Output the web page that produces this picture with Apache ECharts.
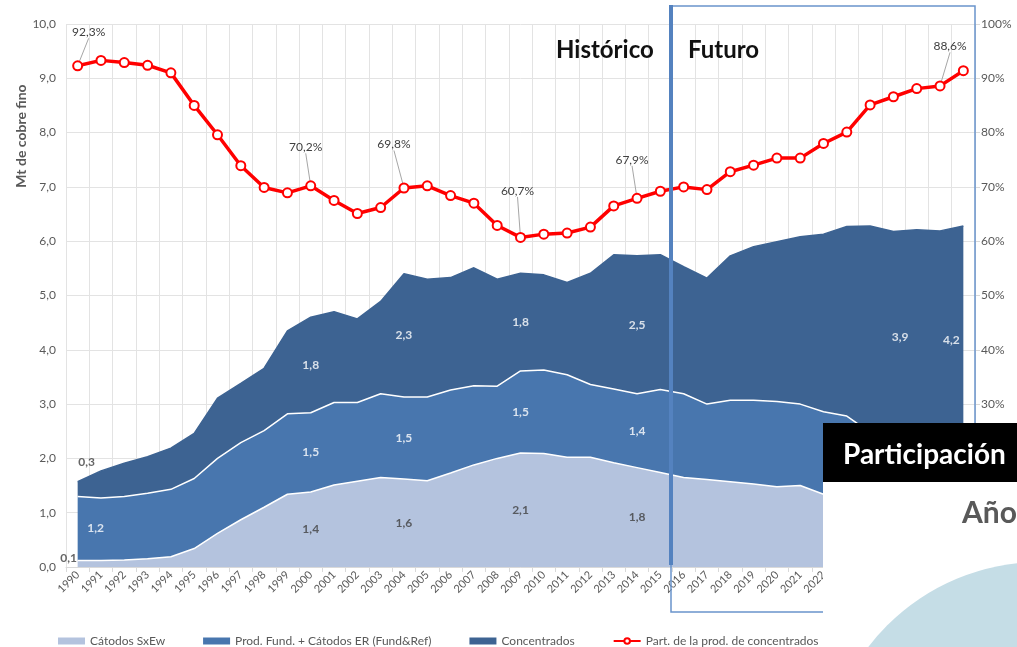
<!DOCTYPE html>
<html>
<head>
<meta charset="utf-8">
<script src="https://cdn.jsdelivr.net/npm/echarts@6/dist/echarts.min.js"></script>
<style>
  html, body { margin: 0; padding: 0; background: #fff; }
  #chart { width: 1017px; height: 647px; }
</style>
</head>
<body>
<div id="chart"></div>
<script>
// años 1990-2028
const years = []
for (let y = 1990; y <= 2028; y++) years.push(String(y))

// Mt de cobre fino por tipo de producto
const catodosSxEw = [0.12, 0.12, 0.13, 0.15, 0.19, 0.34, 0.62, 0.87, 1.10, 1.34,
  1.38, 1.51, 1.58, 1.65, 1.62, 1.59, 1.73, 1.88, 2.00, 2.10,
  2.09, 2.02, 2.02, 1.92, 1.83, 1.74, 1.65, 1.61, 1.57, 1.53,
  1.48, 1.50, 1.34, 1.22, 1.12, 1.05, 0.98, 0.92, 0.88]
const fundRef = [1.18, 1.15, 1.17, 1.21, 1.24, 1.29, 1.38, 1.42, 1.41, 1.48,
  1.46, 1.52, 1.45, 1.54, 1.51, 1.54, 1.53, 1.46, 1.33, 1.51,
  1.54, 1.52, 1.34, 1.36, 1.36, 1.53, 1.54, 1.39, 1.50, 1.54,
  1.57, 1.50, 1.52, 1.56, 1.36, 1.37, 1.38, 1.37, 1.20]
const concentrados = [0.27, 0.50, 0.61, 0.67, 0.76, 0.83, 1.11, 1.09, 1.15, 1.53,
  1.76, 1.67, 1.54, 1.70, 2.27, 2.17, 2.07, 2.17, 1.97, 1.80,
  1.75, 1.70, 2.05, 2.47, 2.54, 2.48, 2.34, 2.32, 2.66, 2.83,
  2.94, 3.08, 3.27, 3.49, 3.80, 3.76, 3.85, 3.90, 4.20]
// participación de concentrados (%)
const partConc = [92.3, 93.3, 92.9, 92.4, 91.0, 85.0, 79.6, 73.9, 69.9, 68.9,
  70.2, 67.5, 65.1, 66.2, 69.8, 70.2, 68.4, 67.0, 62.9, 60.7,
  61.3, 61.5, 62.6, 66.5, 67.9, 69.2, 70.0, 69.5, 72.8, 74.0,
  75.3, 75.3, 78.0, 80.1, 85.1, 86.6, 88.1, 88.6, 91.4]

// años con etiqueta
const sxewLabelYears = ['1990', '2000', '2004', '2009', '2014']
const fundLabelYears = ['1990', '2000', '2004', '2009', '2014']
const concLabelYears = ['1990', '2000', '2004', '2009', '2014', '2027', '2028']
const partLabelYears = ['1990', '2000', '2004', '2009', '2014', '2027']

const names = ['Cátodos SxEw', 'Prod. Fund. + Cátodos ER (Fund&Ref)', 'Concentrados',
  'Part. de la prod. de concentrados']
const colors = ['#b4c3de', '#4876ae', '#3d6392']
const FONT = 'Lato'

const fmt1 = v => v.toFixed(1).replace('.', ',')

// label offsets (px) for a few labels that Excel nudged
const layerOffsets = {
  '0-1990': [-9, -6], '1-1990': [18, 0], '2-1990': [9, -27],
  '2-2027': [-40, 0], '2-2028': [-12, 0]
}
const partOffsets = {
  '1990': [11, -17], '2000': [-5, -22], '2004': [-10, -27],
  '2009': [-3, -30], '2014': [-5, -22], '2027': [10, -23]
}

const layers = [catodosSxEw, fundRef, concentrados]
const labelYears = [sxewLabelYears, fundLabelYears, concLabelYears]

function labelSeries(k) {
  const vals = layers[k]
  const data = labelYears[k].map(yr => {
    const i = years.indexOf(yr)
    let below = 0
    for (let j = 0; j < k; j++) below += layers[j][i]
    const off = layerOffsets[k + '-' + yr] || [0, 0]
    return {
      value: [yr, below + vals[i] / 2],
      v: vals[i],
      label: { offset: off }
    }
  })
  return {
    type: 'scatter',
    yAxisIndex: 0,
    symbolSize: 0,
    silent: true,
    z: 4,
    data: data,
    label: {
      show: true,
      position: 'inside',
      fontFamily: FONT,
      fontSize: 12,
      fontWeight: 'bold',
      color: k === 0 ? '#404040' : '#ffffff',
      formatter: p => fmt1(p.data.v)
    }
  }
}

const areaSeries = layers.map((vals, k) => ({
  name: names[k],
  type: 'line',
  stack: 'total',
  symbol: 'none',
  data: vals,
  itemStyle: { color: colors[k] },
  lineStyle: { color: k === 2 ? colors[k] : '#ffffff', width: 1.5 },
  areaStyle: { color: colors[k], opacity: 1 },
  emphasis: { disabled: true },
  z: 2
}))

const lbl1 = labelSeries(0)
const lbl2 = labelSeries(1)
const lbl3 = labelSeries(2)
// 0,1 y 0,3 de 1990 van en gris oscuro
lbl1.data[0].label.color = '#404040'
lbl3.data[0].label.color = '#404040'

const partSeries = {
  name: names[3],
  type: 'line',
  yAxisIndex: 1,
  data: partConc.map((v, i) => partLabelYears.includes(years[i])
    ? { value: v, label: { show: true } } : v),
  symbol: 'circle',
  symbolSize: 9,
  itemStyle: { color: '#ffffff', borderColor: '#ff0000', borderWidth: 2 },
  lineStyle: { color: '#ff0000', width: 3.5 },
  z: 5,
  label: {
    show: false,
    position: 'top',
    fontFamily: FONT,
    fontSize: 12,
    color: '#404040',
    formatter: p => fmt1(p.value) + '%'
  },
  labelLine: { show: true, lineStyle: { color: '#a6a6a6', width: 1 } },
  labelLayout: p => {
    const off = partOffsets[years[p.dataIndex]]
    return off ? { dx: off[0], dy: off[1] } : {}
  }
}

const chart = echarts.init(document.getElementById('chart'))
chart.setOption({
  animation: false,
  backgroundColor: '#ffffff',
  textStyle: { fontFamily: FONT },
  grid: { left: 66, right: 42, top: 24, bottom: 80 },
  legend: {
    left: 53,
    top: 630,
    itemWidth: 27,
    itemHeight: 7,
    itemGap: 38,
    textStyle: { fontFamily: FONT, fontSize: 12, color: '#595959' },
    data: [
      { name: names[0], icon: 'rect' },
      { name: names[1], icon: 'rect' },
      { name: names[2], icon: 'rect' },
      { name: names[3] }
    ]
  },
  xAxis: {
    type: 'category',
    data: years,
    boundaryGap: true,
    axisLine: { lineStyle: { color: '#d9d9d9' } },
    axisTick: { show: true, length: 5, lineStyle: { color: '#d9d9d9' } },
    splitLine: { show: true, lineStyle: { color: '#e3e3e3' } },
    axisLabel: { rotate: 45, interval: 0, fontSize: 11, color: '#595959', margin: 6, fontFamily: FONT }
  },
  yAxis: [
    {
      type: 'value',
      min: 0, max: 10, interval: 1,
      axisLine: { show: false },
      axisTick: { show: false },
      splitLine: { lineStyle: { color: '#e3e3e3' } },
      axisLabel: { formatter: v => fmt1(v), fontSize: 12, color: '#595959', margin: 10, fontFamily: FONT }
    },
    {
      type: 'value',
      min: 0, max: 100, interval: 10,
      axisLine: { show: true, lineStyle: { color: '#d9d9d9' } },
      axisTick: { show: true, length: 5, lineStyle: { color: '#d9d9d9' } },
      splitLine: { show: false },
      axisLabel: { formatter: '{value}%', fontSize: 12, color: '#595959', margin: 6, fontFamily: FONT }
    }
  ],
  series: [...areaSeries, lbl1, lbl2, lbl3, partSeries],
  graphic: [
    {
      type: 'text', x: 21, y: 136, rotation: Math.PI / 2, z: 50,
      style: { text: 'Mt de cobre fino', font: 'bold 14px ' + FONT, fill: '#595959', align: 'center', verticalAlign: 'middle' }
    },
    // recuadro Histórico / Futuro
    {
      type: 'rect', z: 50, shape: { x: 671, y: 6, width: 304, height: 606 },
      style: { fill: null, stroke: '#6a94cc', lineWidth: 1.5 }
    },
    {
      type: 'line', z: 51, shape: { x1: 671, y1: 5, x2: 671, y2: 565 },
      style: { stroke: '#5482bf', lineWidth: 4 }
    },
    {
      type: 'text', x: 556, y: 50, z: 51,
      style: { text: 'Histórico', font: 'bold 24px ' + FONT, fill: '#111111', verticalAlign: 'middle' }
    },
    {
      type: 'text', x: 688, y: 50, z: 51,
      style: { text: 'Futuro', font: 'bold 24px ' + FONT, fill: '#111111', verticalAlign: 'middle' }
    },
    // panel superpuesto de la diapositiva
    {
      type: 'rect', z: 100, shape: { x: 823, y: 423, width: 194, height: 224 },
      style: { fill: '#ffffff' }
    },
    {
      type: 'circle', z: 101, shape: { cx: 1040, cy: 778, r: 216 },
      style: { fill: '#c5dde6' }
    },
    {
      type: 'rect', z: 102, shape: { x: 823, y: 423, width: 194, height: 59 },
      style: { fill: '#000000' }
    },
    {
      type: 'text', x: 843, y: 455, z: 103,
      style: { text: 'Participación', font: 'bold 28px ' + FONT, fill: '#ffffff', verticalAlign: 'middle' }
    },
    {
      type: 'text', x: 962, y: 513, z: 103,
      style: { text: 'Año', font: 'bold 30px ' + FONT, fill: '#595959', verticalAlign: 'middle' }
    }
  ]
})
</script>
</body>
</html>
